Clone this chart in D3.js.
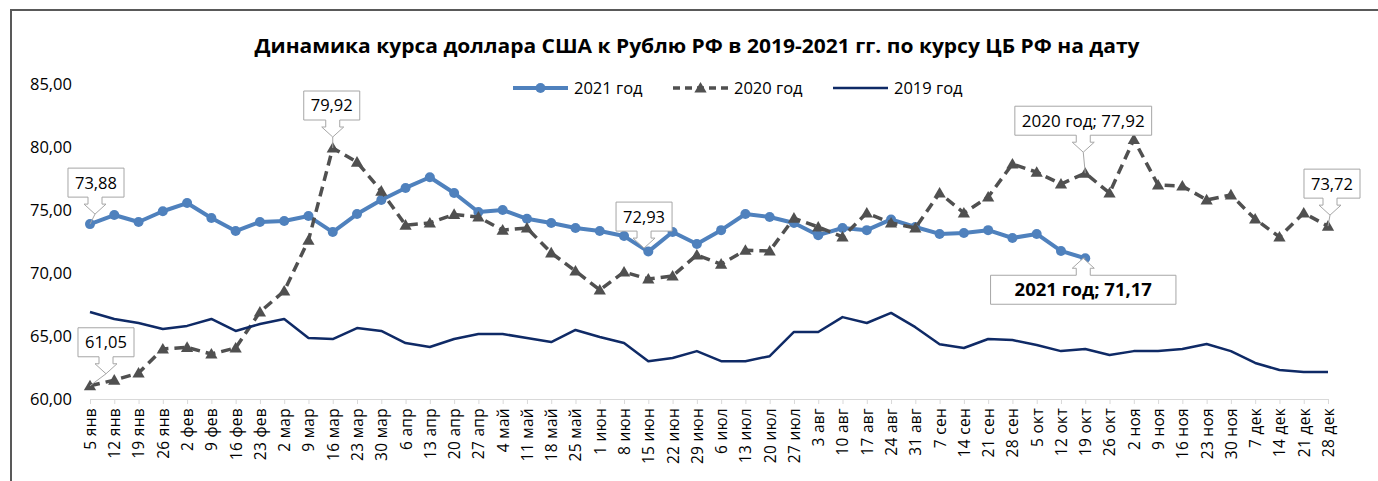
<!DOCTYPE html>
<html>
<head>
<meta charset="utf-8">
<script src="https://cdn.jsdelivr.net/npm/d3@7"></script>
<style>
body { margin: 0; background: #fff; }
text { font-family: "Open Sans", sans-serif; fill: #000; }
</style>
</head>
<body>
<svg id="chart" width="1378" height="481"></svg>
<script>
const weeks = ['5 янв', '12 янв', '19 янв', '26 янв', '2 фев', '9 фев', '16 фев', '23 фев',
  '2 мар', '9 мар', '16 мар', '23 мар', '30 мар', '6 апр', '13 апр', '20 апр', '27 апр',
  '4 май', '11 май', '18 май', '25 май', '1 июн', '8 июн', '15 июн', '22 июн', '29 июн',
  '6 июл', '13 июл', '20 июл', '27 июл', '3 авг', '10 авг', '17 авг', '24 авг', '31 авг',
  '7 сен', '14 сен', '21 сен', '28 сен', '5 окт', '12 окт', '19 окт', '26 окт', '2 ноя',
  '9 ноя', '16 ноя', '23 ноя', '30 ноя', '7 дек', '14 дек', '21 дек', '28 дек'];

const rate2021 = [73.88, 74.60, 74.05, 74.90, 75.55, 74.37, 73.33, 74.05, 74.13, 74.52,
  73.25, 74.68, 75.80, 76.75, 77.60, 76.35, 74.84, 75.00, 74.30, 73.97, 73.57, 73.33,
  72.93, 71.70, 73.25, 72.30, 73.40, 74.68, 74.44, 73.97, 73.00, 73.57, 73.40, 74.25,
  73.65, 73.10, 73.17, 73.40, 72.78, 73.10, 71.75, 71.17];

const rate2020 = [61.05, 61.50, 62.06, 63.97, 64.10, 63.57, 64.05, 66.90, 68.57, 72.60,
  79.92, 78.80, 76.50, 73.80, 73.97, 74.65, 74.44, 73.40, 73.57, 71.60, 70.16, 68.65,
  70.08, 69.52, 69.76, 71.43, 70.70, 71.80, 71.75, 74.35, 73.65, 72.86, 74.76, 73.97,
  73.57, 76.35, 74.76, 76.03, 78.65, 78.00, 77.06, 77.92, 76.35, 80.60, 76.98, 76.90,
  75.80, 76.20, 74.28, 72.86, 74.76, 73.72];

const rate2019 = [66.90, 66.35, 66.03, 65.55, 65.80, 66.35, 65.40, 65.95, 66.35, 64.84,
  64.76, 65.63, 65.40, 64.44, 64.13, 64.76, 65.16, 65.16, 64.84, 64.52, 65.48, 64.92,
  64.44, 63.00, 63.25, 63.80, 63.00, 63.00, 63.40, 65.32, 65.32, 66.50, 66.03, 66.83,
  65.70, 64.35, 64.05, 64.76, 64.68, 64.29, 63.80, 63.97, 63.49, 63.80, 63.80, 63.97,
  64.37, 63.80, 62.86, 62.30, 62.14, 62.14];

const yTicks = [60, 65, 70, 75, 80, 85];

const series = [
  { name: '2021 год', values: rate2021, color: '#4f81bd', width: 4, dash: null, marker: 'circle' },
  { name: '2020 год', values: rate2020, color: '#505050', width: 3.5, dash: '10,6', marker: 'triangle' },
  { name: '2019 год', values: rate2019, color: '#0f2a66', width: 2.5, dash: null, marker: null }
];

// callouts: series index, point index, box offsets from the point
const callouts = [
  { s: 0, i: 0, dx: 6, dy: -56, px: 5 },
  { s: 1, i: 10, dx: -1, dy: -57, px: 0 },
  { s: 0, i: 22, dx: 20, dy: -34, px: 20, noLeader: true },
  { s: 1, i: 41, dx: -2, dy: -67, px: -2, withName: true },
  { s: 1, i: 51, dx: 4, dy: -57, px: 2 },
  { s: 1, i: 0, dx: 16, dy: -58, px: 16 },
  { s: 0, i: 41, dx: -2, dy: 17, px: -2, withName: true, bold: true, up: true }
];

const ru = d3.formatLocale({ decimal: ',', thousands: ' ', grouping: [3], currency: ['', ''] });
const fmt = ru.format('.2f');

const svg = d3.select('#chart');

svg.append('rect')
  .attr('x', 11).attr('y', 10)
  .attr('width', 1400).attr('height', 500)
  .attr('fill', '#fff')
  .attr('stroke', '#595959')
  .attr('stroke-width', 2);

const x = d3.scalePoint()
  .domain(weeks)
  .range([90, 1328]);

const y = d3.scaleLinear()
  .domain([60, 85])
  .range([399, 84]);

// title
svg.append('text')
  .attr('x', 697)
  .attr('y', 53)
  .attr('text-anchor', 'middle')
  .attr('textLength', 885)
  .attr('lengthAdjust', 'spacingAndGlyphs')
  .style('font-size', '20px')
  .style('font-weight', 'bold')
  .text('Динамика курса доллара США к Рублю РФ в 2019-2021 гг. по курсу ЦБ РФ на дату');

// y axis labels only
const yAxis = svg.append('g')
  .attr('transform', 'translate(72,0)')
  .call(d3.axisLeft(y).tickValues(yTicks).tickSize(0).tickPadding(0).tickFormat(fmt));
yAxis.select('.domain').remove();
yAxis.selectAll('.tick text').style('font-size', '16.5px');

// x axis
const xAxis = svg.append('g')
  .attr('transform', `translate(0,${y(60)})`)
  .call(d3.axisBottom(x).tickSizeInner(5).tickSizeOuter(0));
xAxis.select('.domain').attr('stroke', '#d9d9d9');
xAxis.selectAll('.tick line').attr('stroke', '#d9d9d9');
xAxis.selectAll('.tick text')
  .attr('transform', 'rotate(-90)')
  .attr('text-anchor', 'end')
  .attr('x', -9)
  .attr('y', 0)
  .attr('dy', '0.35em')
  .style('font-size', '15.5px')
  .style('letter-spacing', '0.3px');

const line = d3.line()
  .x((d, i) => x(weeks[i]))
  .y((d) => y(d));

series.forEach((s) => {
  svg.append('path')
    .datum(s.values)
    .attr('fill', 'none')
    .attr('stroke', s.color)
    .attr('stroke-width', s.width)
    .attr('stroke-dasharray', s.dash)
    .attr('stroke-linejoin', 'round')
    .attr('d', line);

  if (s.marker === 'circle') {
    svg.append('g').selectAll('circle')
      .data(s.values)
      .enter()
      .append('circle')
      .attr('cx', (d, i) => x(weeks[i]))
      .attr('cy', (d) => y(d))
      .attr('r', 5)
      .attr('fill', s.color);
  } else if (s.marker === 'triangle') {
    svg.append('g').selectAll('path')
      .data(s.values)
      .enter()
      .append('path')
      .attr('transform', (d, i) => `translate(${x(weeks[i])},${y(d) + 1})`)
      .attr('d', d3.symbol(d3.symbolTriangle, 65))
      .attr('fill', s.color);
  }
});

// legend
const legend = svg.append('g')
  .attr('transform', 'translate(513,88)');

const items = legend.selectAll('g')
  .data(series)
  .enter()
  .append('g')
  .attr('transform', (d, i) => `translate(${i * 160},0)`);

items.append('line')
  .attr('x1', 0).attr('x2', 55)
  .attr('stroke', (d) => d.color)
  .attr('stroke-width', (d) => d.width)
  .attr('stroke-dasharray', (d) => d.dash ? '7,5' : null);

items.filter((d) => d.marker === 'circle')
  .append('circle')
  .attr('cx', 27.5).attr('r', 5)
  .attr('fill', (d) => d.color);

items.filter((d) => d.marker === 'triangle')
  .append('path')
  .attr('transform', 'translate(27.5,1)')
  .attr('d', d3.symbol(d3.symbolTriangle, 65))
  .attr('fill', (d) => d.color);

items.append('text')
  .attr('x', 61)
  .attr('dy', '0.35em')
  .style('font-size', '16.5px')
  .text((d) => d.name);

// data callouts
const cg = svg.append('g');
callouts.forEach((c) => {
  const s = series[c.s];
  const v = s.values[c.i];
  const px = x(weeks[c.i]);
  const py = y(v);
  const label = c.withName ? `${s.name}; ${fmt(v)}` : fmt(v);

  const t = cg.append('text')
    .attr('text-anchor', 'middle')
    .style('font-size', c.bold ? '18.5px' : (c.withName ? '17px' : '16.5px'))
    .style('font-weight', c.bold ? 'bold' : 'normal')
    .text(label);
  const tw = t.node().getComputedTextLength();
  const w = tw + (c.bold ? 48 : 14);
  const h = 29;
  const bx = px + c.dx - w / 2;
  const by = py + c.dy;
  const ax = px + c.px;

  let d;
  let tipY;
  if (!c.up) {
    const b = by + h;
    tipY = b + 17;
    d = `M${bx},${by}H${bx + w}V${b}H${ax + 7}V${b + 7}H${ax + 11}L${ax},${tipY}L${ax - 11},${b + 7}H${ax - 7}V${b}H${bx}Z`;
  } else {
    tipY = by - 17;
    d = `M${bx},${by + h}H${bx + w}V${by}H${ax + 7}V${by - 7}H${ax + 11}L${ax},${tipY}L${ax - 11},${by - 7}H${ax - 7}V${by}H${bx}Z`;
  }

  if (!c.noLeader) {
    cg.insert('line', 'text')
      .attr('x1', ax).attr('y1', tipY)
      .attr('x2', px).attr('y2', py)
      .attr('stroke', '#a6a6a6')
      .attr('stroke-width', 1);
  }
  cg.insert('path', 'text')
    .attr('d', d)
    .attr('fill', '#fff')
    .attr('stroke', '#a6a6a6')
    .attr('stroke-width', 1);

  t.attr('x', bx + w / 2)
    .attr('y', by + h / 2)
    .attr('dy', '0.36em')
    .raise();
});
</script>
</body>
</html>
